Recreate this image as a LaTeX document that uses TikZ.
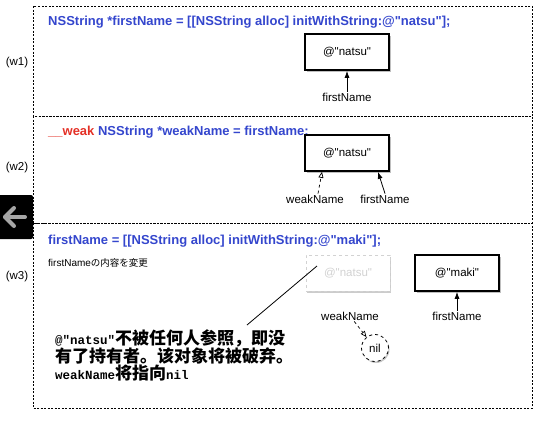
\documentclass[tikz,border=0pt]{standalone}
\usepackage{fontspec}
\setmainfont{Liberation Sans}[Ligatures=TeXOff]
\newfontfamily\jpfont{Noto Sans CJK JP}
\newfontfamily\scfont{Noto Sans CJK SC}
\newfontfamily\monofont{Liberation Mono}[Ligatures=TeXOff]
\usetikzlibrary{arrows.meta,shadows,calc}
\definecolor{codeblue}{RGB}{52,70,205}
\definecolor{weakred}{RGB}{228,48,38}

\begin{document}
\begin{tikzpicture}[x=1pt,y=-1pt,
    panel/.style={draw, dash pattern=on 2pt off 1.5pt, line width=0.6pt},
    code/.style={anchor=west, text=codeblue, font=\fontsize{13}{15}\selectfont\bfseries, inner sep=0pt},
    tag/.style={font=\fontsize{11.5}{13}\selectfont, inner sep=1pt},
    objbox/.style={draw, line width=1.7pt, fill=white, minimum width=84pt, minimum height=36pt,
        font=\fontsize{11.5}{13}\selectfont,
        drop shadow={opacity=0.5, shadow xshift=1.5pt, shadow yshift=-2pt}},
    deadbox/.style={draw=gray!35, dashed, line width=1pt, fill=white, text=gray!35, minimum width=84pt,
        minimum height=36pt, font=\fontsize{11.5}{13}\selectfont,
        drop shadow={opacity=0.4, shadow xshift=1pt, shadow yshift=-2pt}},
    strong/.style={-{Latex[length=7pt,width=5pt]}, line width=0.8pt},
    weak/.style={-{Triangle[open,length=6pt,width=5pt]}, dashed, line width=0.7pt}]
  \useasboundingbox (0,0) rectangle (544,424);

  \foreach \t/\b in {6/116,116/223,223/408}
    \draw[panel] (33,\t) rectangle (532,\b);

  \foreach \n/\y in {w1/63,w2/168,w3/277}
    \node[tag] (\n) at (17,\y) {(\n)};

  % back button
  \fill[black, rounded corners=2pt] (-3,195) rectangle (33,239);
  \draw[gray!70, line width=4pt, line cap=round] (5,217) -- (25,217);
  \draw[gray!70, line width=4pt, line cap=round, line join=round] (14,208) -- (5,217) -- (14,226);

  % (w1)
  \node[code] (c1) at (48,22) {NSString *firstName = [[NSString alloc] initWithString:@"natsu"];};
  \node[objbox] (natsu1) at (347,52) {@"natsu"};
  \node[tag] (fn1) at (347,97) {firstName};
  \draw[strong] (fn1) -- (natsu1);

  % (w2)
  \node[code] (c2) at (48,132) {\textcolor{weakred}{\_\_weak} NSString *weakName = firstName;};
  \node[objbox] (natsu2) at (347,153) {@"natsu"};
  \node[tag] (wn2) at (315,199) {weakName};
  \node[tag] (fn2) at (385,199) {firstName};
  \draw[weak] (wn2.north) ++(3,0) -- ([xshift=-25pt]natsu2.south);
  \draw[strong] (fn2.north) -- ([xshift=31pt]natsu2.south);

  % (w3)
  \node[code] (c3) at (48,241) {firstName = [[NSString alloc] initWithString:@"maki"];};
  \node[anchor=west, inner sep=0pt, font=\fontsize{10}{12}\selectfont] (note) at (48,263)
    {firstName{\jpfont\fontsize{9.5}{12}\selectfont の内容を変更}};
  \node[deadbox] (natsu3) at (348,273) {@"natsu"};
  \node[objbox] (maki) at (457,273) {@"maki"};
  \node[tag] (wn3) at (350,316) {weakName};
  \node[tag] (fn3) at (457,316) {firstName};
  \node[circle, draw, dashed, line width=0.8pt, fill=white, minimum size=27pt, inner sep=0pt,
    font=\fontsize{11.5}{13}\selectfont,
    drop shadow={opacity=0.45, shadow xshift=1pt, shadow yshift=-1.5pt}] (nil) at (375,348) {nil};
  \draw[strong] (fn3) -- (maki);
  \draw[weak] (wn3) -- (nil);

  \node[anchor=north west, align=left, inner sep=0pt, font=\scfont\bfseries\fontsize{17}{17}\selectfont] (msg) at (55,329)
    {{\monofont\fontsize{12.5}{17}\selectfont @"natsu"}不被任何人参照，即没\\
     有了持有者。该对象将被破弃。\\
     {\monofont\fontsize{12.5}{17}\selectfont weakName}将指向{\monofont\fontsize{12.5}{17}\selectfont nil}};
  \coordinate (msgtip) at (247,325);
  \draw[line width=0.8pt] (msgtip) -- ([shift={(-31pt,7pt)}]natsu3.center);
\end{tikzpicture}
\end{document}
